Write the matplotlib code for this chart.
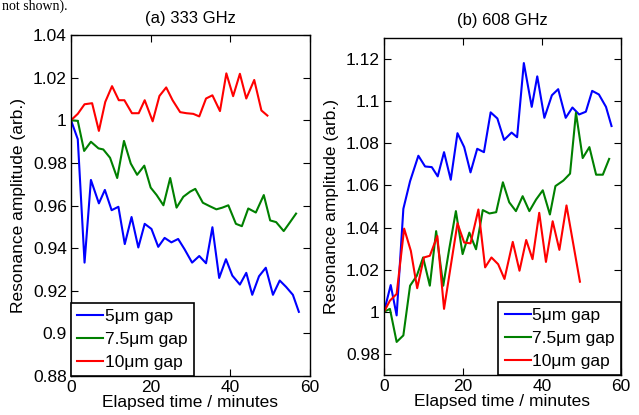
import matplotlib
matplotlib.use("Agg")
import matplotlib.pyplot as plt
from matplotlib.ticker import FuncFormatter

plt.rcParams['font.family'] = ['Liberation Sans', 'DejaVu Sans']

# ---------------- data: (a) 333 GHz ----------------
a_t_5 = [0, 1.7, 3.4, 5.0, 7.0, 8.5, 10.2, 11.9, 13.5, 15.2, 16.9, 18.5, 20.2, 21.9,
         23.5, 25.2, 26.9, 28.5, 30.4, 32.2, 33.9, 35.5, 37.2, 38.9, 40.5, 42.4, 44.0,
         45.5, 47.2, 48.9, 50.7, 52.4, 54.0, 55.7, 57.2]
a_v_5 = [1.000, 0.9911, 0.9332, 0.9720, 0.9610, 0.9673, 0.9578, 0.9594, 0.9419, 0.9546,
         0.9403, 0.9514, 0.9490, 0.9406, 0.9448, 0.9427, 0.9443, 0.9395, 0.9332, 0.9363,
         0.9329, 0.9498, 0.9260, 0.9348, 0.9271, 0.9229, 0.9284, 0.9181, 0.9268, 0.9308,
         0.9181, 0.9248, 0.9218, 0.9181, 0.9101]

a_t_75 = [0, 1.7, 3.3, 5.0, 6.9, 8.1, 9.8, 11.6, 13.3, 15.0, 16.6, 18.4, 20.0, 21.5,
          23.2, 24.9, 26.5, 28.2, 29.9, 31.2, 33.1, 34.8, 36.5, 38.0, 39.5, 41.4, 42.9,
          44.5, 46.4, 48.4, 50.0, 51.5, 53.4, 55.0, 56.5]
a_v_75 = [1.000, 0.9997, 0.9856, 0.9899, 0.9868, 0.9863, 0.9824, 0.9729, 0.9903, 0.9797,
          0.9744, 0.9787, 0.9684, 0.9649, 0.9601, 0.9729, 0.9590, 0.9641, 0.9665, 0.9678,
          0.9613, 0.9597, 0.9582, 0.9590, 0.9601, 0.9514, 0.9503, 0.9586, 0.9567, 0.9649,
          0.9530, 0.9522, 0.9480, 0.9522, 0.9562]

a_t_10 = [0, 1.7, 3.4, 5.3, 7.0, 8.6, 10.3, 12.0, 13.4, 15.3, 17.0, 18.5, 20.5, 22.2,
          23.9, 25.5, 27.4, 29.0, 30.7, 32.2, 33.9, 35.5, 37.4, 39.0, 40.7, 42.4, 44.0,
          46.0, 47.8, 49.3]
a_v_10 = [1.000, 1.003, 1.0075, 1.008, 0.995, 1.0086, 1.016, 1.0094, 1.0094, 1.0033,
          1.0033, 1.0094, 0.9995, 1.0114, 1.0154, 1.0094, 1.0038, 1.0033, 1.003, 1.0018,
          1.0102, 1.0117, 1.0043, 1.022, 1.0113, 1.0218, 1.0102, 1.0189, 1.0046, 1.0022]

# ---------------- data: (b) 608 GHz ----------------
b_t_5 = [0, 1.7, 3.2, 4.9, 6.6, 8.7, 10.4, 12.1, 13.6, 15.2, 16.9, 18.6, 20.3, 21.9,
         23.6, 25.3, 27.0, 28.7, 30.4, 32.3, 33.7, 35.4, 37.4, 38.8, 40.6, 42.5, 44.1,
         46.0, 47.7, 49.4, 51.1, 52.7, 54.4, 56.2, 57.6]
b_v_5 = [1.000, 1.0127, 0.9983, 1.0489, 1.062, 1.0741, 1.069, 1.0687, 1.0643, 1.0758,
         1.0627, 1.0848, 1.0782, 1.0662, 1.0774, 1.0758, 1.0947, 1.0918, 1.0816, 1.0851,
         1.0829, 1.1181, 1.0973, 1.1118, 1.0921, 1.1028, 1.1057, 1.0921, 1.0970, 1.0937,
         1.0950, 1.1049, 1.1032, 1.0973, 1.0882]

b_t_75 = [0, 1.5, 3.2, 4.9, 6.6, 8.3, 9.9, 11.6, 13.2, 15.0, 16.5, 18.2, 19.9, 21.6,
          23.3, 25.0, 26.7, 28.4, 30.1, 31.7, 33.4, 35.1, 36.8, 38.5, 40.2, 42.0, 43.4,
          45.4, 47.1, 48.6, 50.3, 52.0, 53.7, 55.4, 57.0]
b_v_75 = [1.000, 1.0014, 0.9857, 0.9888, 1.0124, 1.0171, 1.0258, 1.0124, 1.0383, 1.0124,
          1.0297, 1.0478, 1.0274, 1.0376, 1.0297, 1.0483, 1.0467, 1.0473, 1.0615, 1.0520,
          1.0478, 1.0549, 1.0478, 1.0533, 1.0577, 1.0462, 1.0597, 1.0623, 1.0656, 1.0945,
          1.0730, 1.0782, 1.0651, 1.0651, 1.0726]

b_t_10 = [0, 1.5, 3.2, 5.1, 6.8, 8.4, 10.1, 11.6, 13.5, 15.2, 16.9, 18.6, 20.3, 21.9,
          23.9, 25.6, 27.2, 28.9, 30.5, 32.6, 34.3, 36.0, 37.6, 39.3, 41.0, 42.7, 44.4,
          46.2, 49.6]
b_v_10 = [1.000, 1.0053, 1.0085, 1.0395, 1.0289, 1.0112, 1.0258, 1.0266, 1.0360, 1.0014,
          1.0218, 1.0420, 1.0329, 1.0325, 1.0486, 1.0211, 1.0258, 1.0226, 1.0156, 1.0332,
          1.0195, 1.0341, 1.0250, 1.0470, 1.0237, 1.0430, 1.0294, 1.0505, 1.0143]

labels = ['5\u03bcm gap', '7.5\u03bcm gap', '10\u03bcm gap']
colors = ['#0000ff', '#008000', '#ff0000']

a_yticks = [0.88, 0.9, 0.92, 0.94, 0.96, 0.98, 1, 1.02, 1.04]
b_yticks = [0.98, 1, 1.02, 1.04, 1.06, 1.08, 1.1, 1.12]
xticks = [0, 20, 40, 60]

W, H = 639, 415
fig = plt.figure(figsize=(W / 100, H / 100), dpi=100)

def px_axes(x0, y0, x1, y1):
    return fig.add_axes([x0 / W, 1 - y1 / H, (x1 - x0) / W, (y1 - y0) / H])

axA = px_axes(71, 35, 310, 376)
axB = px_axes(384, 38, 621, 375)

fmt = FuncFormatter(lambda v, p: ('%g' % round(v, 4)))

def style(ax, title, ylim, yticks, legloc):
    ax.set_xlim(0, 60)
    ax.set_ylim(*ylim)
    ax.set_xticks(xticks)
    ax.set_yticks(yticks)
    ax.yaxis.set_major_formatter(fmt)
    ax.tick_params(direction='in', top=True, right=True, length=5, width=0.8,
                   labelsize=12.5, pad=3, colors='black')
    for s in ax.spines.values():
        s.set_linewidth(1.0)
    ax.set_title(title, fontsize=12, pad=9)
    ax.set_xlabel('Elapsed time / minutes', fontsize=12.5, labelpad=0)
    ax.set_ylabel('Resonance amplitude (arb.)', fontsize=12.5, labelpad=5)
    leg = ax.legend(loc=legloc, fontsize=12.5, handlelength=1.5, handletextpad=0.1,
                    borderaxespad=0, borderpad=0.35, labelspacing=0.45,
                    fancybox=False, framealpha=1, edgecolor='black')
    leg.get_frame().set_linewidth(1.2)

lw = 1.5
axA.plot(a_t_5, a_v_5, color=colors[0], lw=lw, label=labels[0])
axA.plot(a_t_75, a_v_75, color=colors[1], lw=lw, label=labels[1])
axA.plot(a_t_10, a_v_10, color=colors[2], lw=lw, label=labels[2])
style(axA, '(a) 333 GHz', (0.88, 1.04), a_yticks, 'lower left')

axB.plot(b_t_5, b_v_5, color=colors[0], lw=lw, label=labels[0])
axB.plot(b_t_75, b_v_75, color=colors[1], lw=lw, label=labels[1])
axB.plot(b_t_10, b_v_10, color=colors[2], lw=lw, label=labels[2])
style(axB, '(b) 608 GHz', (0.97, 1.13), b_yticks, 'lower right')

fig.text(2 / W, 1.0, 'not shown).', fontsize=10, family=['Liberation Serif', 'DejaVu Serif'],
         va='top', ha='left')

fig.savefig('out.png', dpi=100)
